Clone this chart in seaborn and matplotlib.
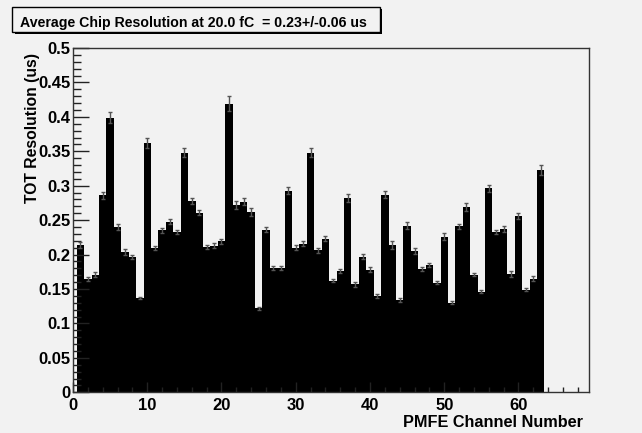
import numpy as np
import matplotlib
matplotlib.use("Agg")
import matplotlib.pyplot as plt
from matplotlib.patches import Rectangle
from matplotlib.ticker import MultipleLocator, FuncFormatter
import seaborn as sns

channels = list(range(1, 64))
resolution = [
    0.214, 0.165, 0.171, 0.286, 0.399, 0.240, 0.204, 0.197, 0.137, 0.362,
    0.209, 0.235, 0.248, 0.233, 0.348, 0.278, 0.261, 0.211, 0.213, 0.219,
    0.419, 0.272, 0.277, 0.262, 0.122, 0.236, 0.181, 0.181, 0.293, 0.210,
    0.216, 0.348, 0.206, 0.223, 0.162, 0.176, 0.282, 0.157, 0.197, 0.178,
    0.140, 0.287, 0.214, 0.134, 0.242, 0.205, 0.179, 0.185, 0.159, 0.226,
    0.130, 0.241, 0.269, 0.171, 0.146, 0.296, 0.233, 0.237, 0.172, 0.256,
    0.149, 0.165, 0.323,
]
errors = [
    0.0048, 0.0030, 0.0034, 0.0048, 0.0082, 0.0039, 0.0039, 0.0030, 0.0020, 0.0073,
    0.0030, 0.0039, 0.0034, 0.0034, 0.0068, 0.0048, 0.0034, 0.0034, 0.0039, 0.0034,
    0.0107, 0.0053, 0.0053, 0.0053, 0.0020, 0.0039, 0.0030, 0.0030, 0.0053, 0.0039,
    0.0039, 0.0063, 0.0030, 0.0039, 0.0020, 0.0034, 0.0053, 0.0034, 0.0039, 0.0034,
    0.0024, 0.0053, 0.0053, 0.0024, 0.0048, 0.0039, 0.0024, 0.0034, 0.0024, 0.0048,
    0.0024, 0.0039, 0.0053, 0.0024, 0.0024, 0.0053, 0.0030, 0.0048, 0.0039, 0.0039,
    0.0024, 0.0034, 0.0068,
]
title_text = "Average Chip Resolution at 20.0 fC  = 0.23+/-0.06 us"
x_label = "PMFE Channel Number"
y_label = "TOT Resolution (us)"

BG = "#f2f2f2"
plt.rcParams["font.family"] = ["Liberation Sans", "DejaVu Sans"]
plt.rcParams["font.weight"] = "bold"

W, H = 642, 433
fig = plt.figure(figsize=(W / 100, H / 100), dpi=100, facecolor=BG)
ax = fig.add_axes([73 / W, 1 - 392.3 / H, (589 - 73) / W, (392.3 - 48) / H])
ax.set_facecolor(BG)

sns.barplot(x=channels, y=resolution, native_scale=True, width=1.0,
            color="black", saturation=1, errorbar=None, linewidth=0, ax=ax)
ax.errorbar(channels, resolution, yerr=errors, fmt="none", ecolor="#555555",
            elinewidth=1, capsize=1.3, capthick=1, zorder=3)

ax.set_xlim(0, 69.5)
ax.set_ylim(0, 0.5)
ax.xaxis.set_major_locator(MultipleLocator(10))
ax.xaxis.set_minor_locator(MultipleLocator(2))
ax.yaxis.set_major_locator(MultipleLocator(0.05))
ax.yaxis.set_minor_locator(MultipleLocator(0.01))
ax.yaxis.set_major_formatter(FuncFormatter(lambda v, p: f"{v:g}"))
ax.xaxis.set_major_formatter(FuncFormatter(lambda v, p: f"{v:g}"))
ax.tick_params(axis="both", which="both", direction="in", top=False, right=False,
               labelsize=12, width=1, color="#222222")
ax.tick_params(axis="x", which="major", length=7, pad=4)
ax.tick_params(axis="x", which="minor", length=3.6)
ax.tick_params(axis="y", which="major", length=11.5, pad=2)
ax.tick_params(axis="y", which="minor", length=5.8)
for lab in ax.get_xticklabels() + ax.get_yticklabels():
    lab.set_fontweight("bold")
for s in ax.spines.values():
    s.set_color("#333333")
    s.set_linewidth(1)
ax.set_xlabel("")
ax.set_ylabel("")

fig.text(583 / W, 1 - 426.7 / H, x_label, ha="right", va="baseline",
         fontsize=11.7, fontweight="bold")
fig.text(33 / W, 1 - 53 / H, y_label, ha="center", va="top", rotation=90,
         fontsize=11.3, fontweight="bold")

# title pave with shadow
fig.patches.append(Rectangle((14.5 / W, 1 - 33.5 / H), (380 - 12) / W, (31.5 - 7.3) / H,
                             transform=fig.transFigure, facecolor="black",
                             edgecolor="black", lw=0, zorder=1))
fig.patches.append(Rectangle((12.3 / W, 1 - 31.5 / H), (380 - 12.3) / W, (31.5 - 7.3) / H,
                             transform=fig.transFigure, facecolor=BG,
                             edgecolor="black", lw=1, zorder=2))
fig.text(20 / W, 1 - 27.3 / H, title_text, ha="left", va="baseline",
         fontsize=10.2, fontweight="bold", zorder=3)

fig.savefig("out.png", dpi=100, facecolor=BG)
